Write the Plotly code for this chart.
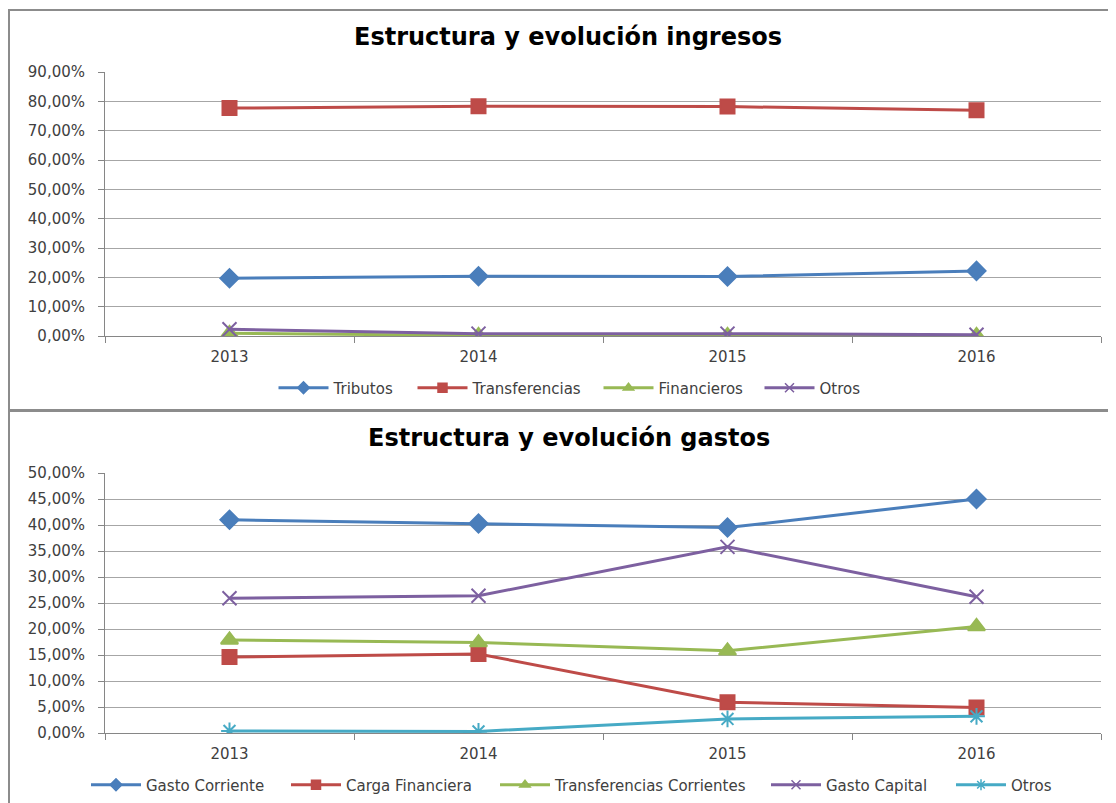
import plotly.graph_objects as go

years = ["2013", "2014", "2015", "2016"]

# Ingresos (fractions)
ing_tributos = [0.197, 0.204, 0.203, 0.222]
ing_transferencias = [0.777, 0.783, 0.782, 0.770]
ing_financieros = [0.009, 0.002, 0.002, 0.002]
ing_otros = [0.023, 0.008, 0.008, 0.004]

# Gastos (fractions)
gas_corriente = [0.410, 0.403, 0.395, 0.450]
gas_carga = [0.146, 0.152, 0.059, 0.049]
gas_transf = [0.179, 0.174, 0.158, 0.205]
gas_capital = [0.259, 0.264, 0.358, 0.262]
gas_otros = [0.004, 0.003, 0.027, 0.032]

BLUE = "#4A7EBB"
RED = "#BE4B48"
GREEN = "#98B954"
PURPLE = "#7D60A0"
AQUA = "#46AAC5"
FONT = "DejaVu Sans"
TXT = "#404040"
GRID = "#A6A6A6"
AXC = "#868686"

OFF = 8  # page body margin
W, H = 1116 - OFF, 803 - OFF


def py(pix):
    return 1 - (pix - OFF) / H


def px(pix):
    return (pix - OFF) / W


fig = go.Figure()


def add_series(name, vals, col, sym, sz, xa, ya, leg, lw):
    fig.add_trace(go.Scatter(
        x=years, y=vals, name=name, mode="lines+markers",
        xaxis=xa, yaxis=ya, showlegend=False,
        line=dict(color=col, width=3),
        marker=dict(symbol=sym, size=sz, color=col, line=dict(color=col, width=2)),
    ))
    # legend entry with small marker (Excel style)
    fig.add_trace(go.Scatter(
        x=[None], y=[None], name=name, mode="lines+markers",
        xaxis=xa, yaxis=ya, legend=leg, showlegend=True, legendwidth=lw,
        line=dict(color=col, width=3),
        marker=dict(symbol=sym, size=9, color=col, line=dict(color=col, width=1.5)),
    ))


top_series = [
    ("Tributos", ing_tributos, BLUE, "diamond", 14, 74),
    ("Transferencias", ing_transferencias, RED, "square", 14, 121),
    ("Financieros", ing_financieros, GREEN, "triangle-up", 15, 96),
    ("Otros", ing_otros, PURPLE, "x-thin-open", 14, 42),
]
for name, vals, col, sym, sz, lw in top_series:
    add_series(name, vals, col, sym, sz, "x", "y", "legend", lw)

bot_series = [
    ("Gasto Corriente", gas_corriente, BLUE, "diamond", 14, 135),
    ("Carga Financiera", gas_carga, RED, "square", 14, 144),
    ("Transferencias Corrientes", gas_transf, GREEN, "triangle-up", 15, 206),
    ("Gasto Capital", gas_capital, PURPLE, "x-thin-open", 14, 120),
    ("Otros", gas_otros, AQUA, "asterisk-open", 14, 42),
]
for name, vals, col, sym, sz, lw in bot_series:
    add_series(name, vals, col, sym, sz, "x2", "y2", "legend2", lw)

xcommon = dict(
    type="category", range=[-0.5, 3.5], tickson="boundaries",
    ticks="outside", ticklen=6, tickcolor=AXC,
    showline=True, linecolor=AXC, linewidth=1,
    showgrid=False, tickfont=dict(family=FONT, size=15, color=TXT),
    ticklabelstandoff=7,
    fixedrange=True, automargin=False,
)
ycommon = dict(
    tickformat=".2%", ticks="outside", ticklen=6, tickcolor=AXC,
    showline=True, linecolor=AXC, linewidth=1,
    showgrid=True, gridcolor=GRID, gridwidth=1, zeroline=False,
    tickfont=dict(family=FONT, size=15, color=TXT),
    ticklabelstandoff=10,
    fixedrange=True, automargin=False,
)

legcommon = dict(orientation="h", xanchor="center", yanchor="middle",
                 font=dict(family=FONT, size=15, color=TXT), itemwidth=50,
                 bgcolor="rgba(0,0,0,0)")

fig.update_layout(
    template="none",
    width=W, height=H,
    margin=dict(l=0, r=0, t=0, b=0, pad=0),
    paper_bgcolor="white", plot_bgcolor="white",
    separators=",.",
    font=dict(family=FONT, color=TXT),
    xaxis=dict(**xcommon, domain=[px(105), px(1101)], anchor="y"),
    yaxis=dict(**ycommon, domain=[py(336), py(72)], range=[0, 0.9], dtick=0.1, anchor="x"),
    xaxis2=dict(**xcommon, domain=[px(105), px(1101)], anchor="y2"),
    yaxis2=dict(**ycommon, domain=[py(733), py(473)], range=[0, 0.5], dtick=0.05, anchor="x2"),
    legend=dict(**legcommon, x=px(570), y=py(388)),
    legend2=dict(**legcommon, x=px(572), y=py(785)),
    showlegend=True,
    annotations=[
        dict(text="<b>Estructura y evolución ingresos</b>", x=px(568), y=py(37),
             xref="paper", yref="paper", showarrow=False, xanchor="center", yanchor="middle",
             font=dict(family=FONT, size=24, color="black")),
        dict(text="<b>Estructura y evolución gastos</b>", x=px(569), y=py(438),
             xref="paper", yref="paper", showarrow=False, xanchor="center", yanchor="middle",
             font=dict(family=FONT, size=24, color="black")),
    ],
    shapes=[
        dict(type="rect", xref="paper", yref="paper", x0=px(9), x1=px(1130), y0=py(410), y1=py(10),
             line=dict(color="#8C8C8C", width=2), fillcolor="rgba(0,0,0,0)", layer="below"),
        dict(type="rect", xref="paper", yref="paper", x0=px(9), x1=px(1130), y0=py(830), y1=py(411),
             line=dict(color="#8C8C8C", width=2), fillcolor="rgba(0,0,0,0)", layer="below"),
    ],
)

fig.write_html("out.html")
